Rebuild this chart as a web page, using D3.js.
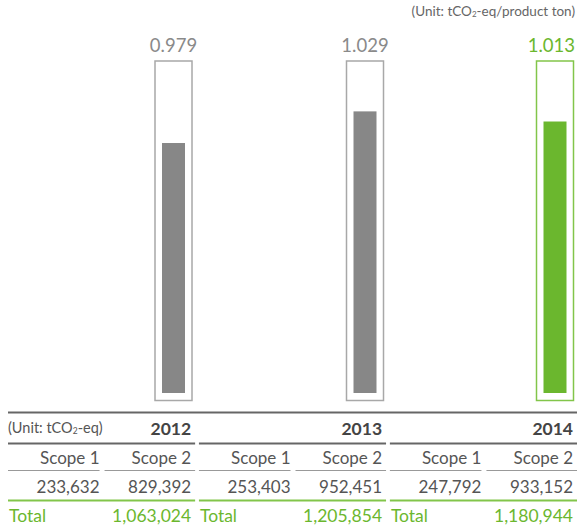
<!DOCTYPE html>
<html>
<head>
<meta charset="utf-8">
<script src="https://cdn.jsdelivr.net/npm/d3@7"></script>
<style>
  html, body { margin: 0; padding: 0; background: #fff; }
  svg { display: block; font-family: Lato, "Open Sans", sans-serif; }
</style>
</head>
<body>
<svg id="chart" width="577" height="528"></svg>
<script>
// Emission intensity (tCO2-eq per product ton) and absolute emissions by year
const years = ["2012", "2013", "2014"];
const intensity = [0.979, 1.029, 1.013];
const scope1 = [233632, 253403, 247792];
const scope2 = [829392, 952451, 933152];
const totals = [1063024, 1205854, 1180944];
const highlightYear = "2014";

const GRAY_BAR = "#878787";
const GRAY_LABEL = "#8a8a8a";
const GREEN = "#6bb72e";
const GREEN_LIGHT = "#82c54a";
const TEXT = "#555555";
const DARK = "#444444";

const W = 577;
const svg = d3.select("#chart");
const fmt = d3.format(",");

// Layout: three equal groups across the width
const group = d3.scaleBand().domain(years).range([8, W]).paddingInner(0.02).paddingOuter(0);
const groupRight = y => group(y) + group.bandwidth();
const colCenter = { "2012": 173.5, "2013": 365, "2014": 555 };

const barBase = 393;
const yScale = d3.scaleLinear().domain([0.584, 1.007]).range([barBase, 125.3]);

// Unit note
const unit = svg.append("text")
  .attr("x", 575).attr("y", 16)
  .attr("text-anchor", "end")
  .attr("font-size", 13.5).attr("fill", "#666");
unit.append("tspan").text("(Unit: tCO");
unit.append("tspan").attr("font-size", 8).attr("dy", 1).text("2");
unit.append("tspan").attr("dy", -1).text("-eq/product ton)");

const isHi = y => y === highlightYear;

// Outline frames
svg.selectAll("rect.frame").data(years).join("rect")
  .attr("class", "frame")
  .attr("x", y => colCenter[y] - 18.5)
  .attr("y", 61)
  .attr("width", 37)
  .attr("height", 339.5)
  .attr("fill", "none")
  .attr("stroke", y => isHi(y) ? GREEN_LIGHT : "#a8a8a8")
  .attr("stroke-width", 1.5);

// Intensity bars
svg.selectAll("rect.bar").data(years).join("rect")
  .attr("class", "bar")
  .attr("x", y => colCenter[y] - 11.5)
  .attr("width", 23)
  .attr("y", (y, i) => yScale(intensity[i]))
  .attr("height", (y, i) => barBase - yScale(intensity[i]))
  .attr("fill", y => isHi(y) ? GREEN : GRAY_BAR);

// Value labels, centred over the frames but kept inside the canvas
svg.selectAll("text.val").data(years).join("text")
  .attr("class", "val")
  .attr("y", 52)
  .attr("text-anchor", "middle")
  .attr("font-size", 18.5)
  .attr("fill", y => isHi(y) ? GREEN : GRAY_LABEL)
  .text((y, i) => intensity[i].toFixed(3))
  .attr("x", function (y) {
    const half = this.getComputedTextLength() / 2;
    return Math.min(colCenter[y], W - 2 - half);
  });

// ---- Table ----
svg.append("line")
  .attr("x1", 8).attr("x2", W).attr("y1", 412.5).attr("y2", 412.5)
  .attr("stroke", "#666").attr("stroke-width", 2);

const unit2 = svg.append("text")
  .attr("x", 8).attr("y", 433)
  .attr("font-size", 14.5).attr("fill", TEXT);
unit2.append("tspan").text("(Unit: tCO");
unit2.append("tspan").attr("font-size", 8.5).attr("dy", 1).text("2");
unit2.append("tspan").attr("dy", -1).text("-eq)");

const gSel = svg.selectAll("g.grp").data(years).join("g").attr("class", "grp");

gSel.each(function (y, i) {
  const g = d3.select(this);
  const x0 = group(y), x1 = groupRight(y);
  const mid = x0 + (x1 - x0) / 2;

  g.append("text")
    .attr("x", x1 - 4).attr("y", 435)
    .attr("text-anchor", "end")
    .attr("font-size", 17.5).attr("font-weight", "bold").attr("fill", DARK)
    .text(y);

  g.append("line")
    .attr("x1", x0).attr("x2", x1).attr("y1", 443.5).attr("y2", 443.5)
    .attr("stroke", "#666").attr("stroke-width", 2);

  // sub-column separators under the scope headers
  [[x0, mid - 2], [mid + 3, x1]].forEach(([a, b]) => {
    g.append("line")
      .attr("x1", a).attr("x2", b).attr("y1", 470.5).attr("y2", 470.5)
      .attr("stroke", "#999").attr("stroke-width", 1);
  });

  g.append("text").attr("x", mid - 2).attr("y", 464).attr("text-anchor", "end")
    .attr("font-size", 17).attr("fill", TEXT).text("Scope 1");
  g.append("text").attr("x", x1 - 4).attr("y", 464).attr("text-anchor", "end")
    .attr("font-size", 17).attr("fill", TEXT).text("Scope 2");

  g.append("text").attr("x", mid - 2).attr("y", 493).attr("text-anchor", "end")
    .attr("font-size", 17).attr("fill", TEXT).text(fmt(scope1[i]));
  g.append("text").attr("x", x1 - 4).attr("y", 493).attr("text-anchor", "end")
    .attr("font-size", 17).attr("fill", TEXT).text(fmt(scope2[i]));

  g.append("line")
    .attr("x1", x0).attr("x2", x1).attr("y1", 500.5).attr("y2", 500.5)
    .attr("stroke", GREEN_LIGHT).attr("stroke-width", 2);

  g.append("text").attr("x", x0 + 1).attr("y", 522).attr("font-size", 17.5)
    .attr("fill", GREEN).text("Total");
  g.append("text").attr("x", x1 - 4).attr("y", 522).attr("text-anchor", "end")
    .attr("font-size", 17.5).attr("fill", GREEN).text(fmt(totals[i]));
});
</script>
</body>
</html>
